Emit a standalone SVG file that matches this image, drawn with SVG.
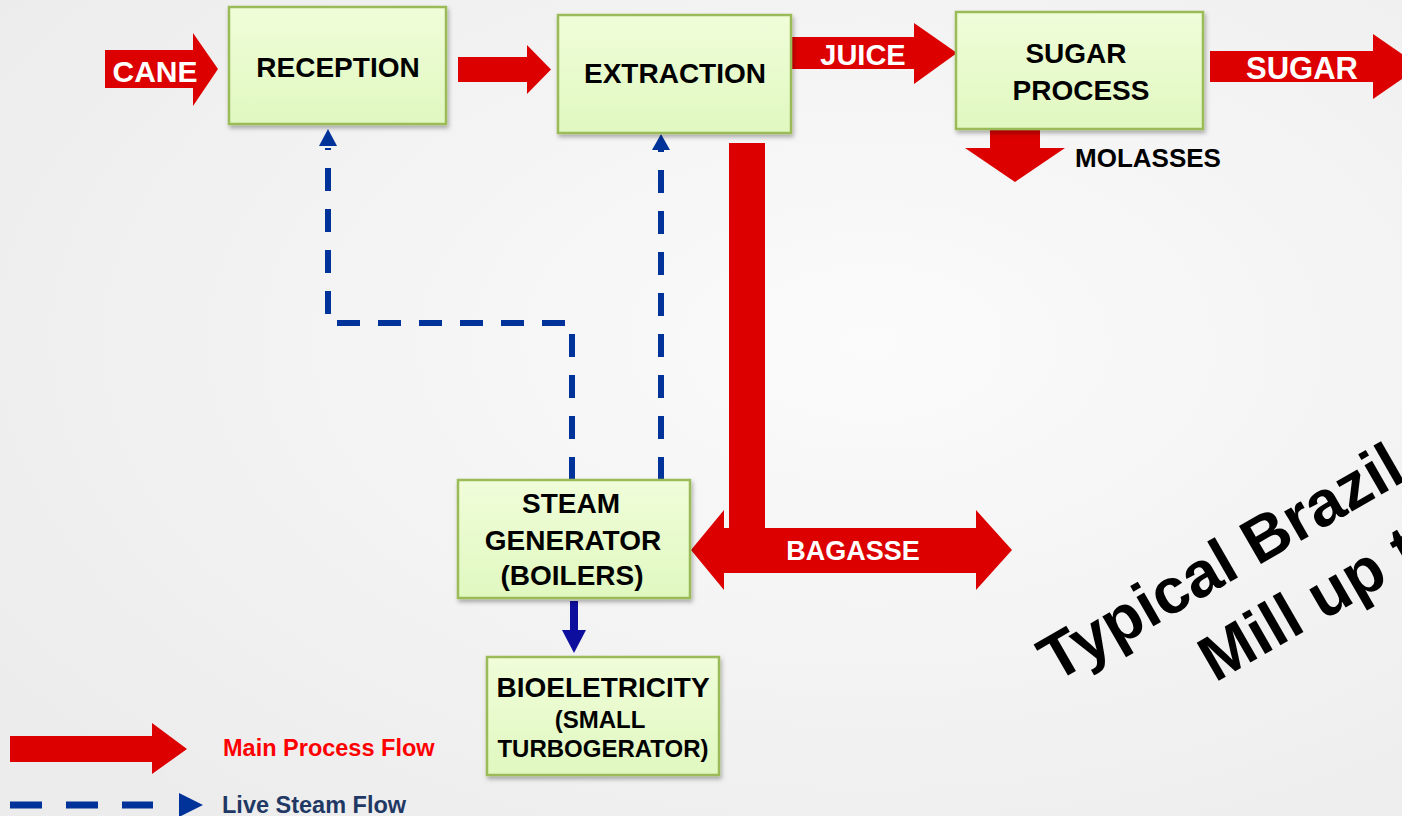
<svg xmlns="http://www.w3.org/2000/svg" width="1402" height="816" viewBox="0 0 1402 816">
<defs>
<radialGradient id="bg" cx="0.62" cy="0.42" r="0.75">
<stop offset="0" stop-color="#fbfbfb"/>
<stop offset="1" stop-color="#ececec"/>
</radialGradient>
<linearGradient id="box" x1="0" y1="0" x2="0" y2="1">
<stop offset="0" stop-color="#f0fdd9"/>
<stop offset="1" stop-color="#e0f8c0"/>
</linearGradient>
<filter id="sh" x="-10%" y="-10%" width="125%" height="130%">
<feDropShadow dx="1.5" dy="3" stdDeviation="2" flood-color="#000" flood-opacity="0.3"/>
</filter>
</defs>
<style>
.box{fill:url(#box);stroke:#9bbb59;stroke-width:2.5;filter:url(#sh)}
.red{fill:#dc0000}
.t{font-family:"Liberation Sans",Arial,sans-serif;font-weight:bold;fill:#000;text-anchor:middle}
.w{font-family:"Liberation Sans",Arial,sans-serif;font-weight:bold;fill:#fff;text-anchor:middle}
.dash{fill:none;stroke:#003399;stroke-width:6;stroke-dasharray:23 18}
.bh{fill:#003399}
</style>
<rect width="1402" height="816" fill="url(#bg)"/>

<g id="connectors">
<!-- CANE -->
<polygon class="red" points="105,50 193,50 193,33 218,69 193,106 193,88 105,88"/>
<text class="w" x="155" y="82" font-size="30">CANE</text>
<!-- reception to extraction -->
<polygon class="red" points="458,57 527,57 527,45 551,69.5 527,94 527,82 458,82"/>
<!-- JUICE -->
<polygon class="red" points="791,37 914,37 914,23 957,53 914,84 914,69 791,69"/>
<text class="w" x="863" y="65" font-size="29">JUICE</text>
<!-- SUGAR -->
<polygon class="red" points="1210,51 1373,51 1373,34 1420,66.5 1373,99 1373,82 1210,82"/>
<text class="w" x="1302" y="79" font-size="31">SUGAR</text>
<!-- MOLASSES -->
<polygon class="red" points="990,129 1040,129 1040,148 1065,148 1015,182 965,148 990,148"/>
<text class="t" x="1075" y="167" font-size="26" style="text-anchor:start">MOLASSES</text>
<!-- BAGASSE -->
<polygon class="red" points="729,143 765,143 765,528 976,528 976,510 1012,550 976,590 976,573 724,573 724,590 691,550 724,510 724,528 729,528"/>
<text class="w" x="853" y="560" font-size="27">BAGASSE</text>
<!-- steam lines -->
<path class="dash" d="M572,480 V323 H328 V148"/>
<polygon class="bh" points="328,129 337,146 319,146"/>
<path class="dash" d="M661,480 V150"/>
<polygon class="bh" points="661,134 670,150 652,150"/>
<!-- steam to bio -->
<rect x="570" y="601" width="8" height="31" fill="#0d0d9e"/>
<polygon points="562,630 586,630 574,653" fill="#0d0d9e"/>
</g>

<g id="reception">
<rect class="box" x="229" y="7" width="217" height="117"/>
<text class="t" x="338" y="77" font-size="28">RECEPTION</text>
</g>
<g id="extraction">
<rect class="box" x="558" y="15" width="233" height="118"/>
<text class="t" x="675" y="83" font-size="28">EXTRACTION</text>
</g>
<g id="sugar-process">
<rect class="box" x="956" y="12" width="247" height="117"/>
<text class="t" x="1076" y="63" font-size="28">SUGAR</text>
<text class="t" x="1081" y="100" font-size="28">PROCESS</text>
</g>
<g id="steam-generator">
<rect class="box" x="458" y="480" width="232" height="118"/>
<text class="t" x="571" y="513" font-size="28">STEAM</text>
<text class="t" x="573" y="550" font-size="28">GENERATOR</text>
<text class="t" x="572" y="585" font-size="28">(BOILERS)</text>
</g>
<g id="bioelectricity">
<rect class="box" x="487" y="657" width="232" height="118"/>
<text class="t" x="603" y="697" font-size="28">BIOELETRICITY</text>
<text class="t" x="600" y="728" font-size="24">(SMALL</text>
<text class="t" x="603" y="757" font-size="24">TURBOGERATOR)</text>
</g>

<g id="legend">
<polygon class="red" points="10,736 152,736 152,723 187,749 152,774 152,762 10,762"/>
<text x="223" y="756" font-family="Liberation Sans, Arial, sans-serif" font-weight="bold" font-size="23.5" fill="#ff0000">Main Process Flow</text>
<path d="M10,805 H42 M66,805 H98 M122,805 H153" stroke="#003399" stroke-width="7" fill="none"/>
<polygon points="179,793 203,805 179,817" fill="#003399"/>
<text x="222" y="813" font-family="Liberation Sans, Arial, sans-serif" font-weight="bold" font-size="23.5" fill="#1f3864">Live Steam Flow</text>
</g>

<g id="title" font-family="Liberation Sans, Arial, sans-serif" font-weight="bold" font-size="64" fill="#000">
<text transform="translate(1055,683) rotate(-30)">Typical Brazil</text>
<text transform="translate(1215,683) rotate(-30)">Mill up t</text>
</g>
</svg>
